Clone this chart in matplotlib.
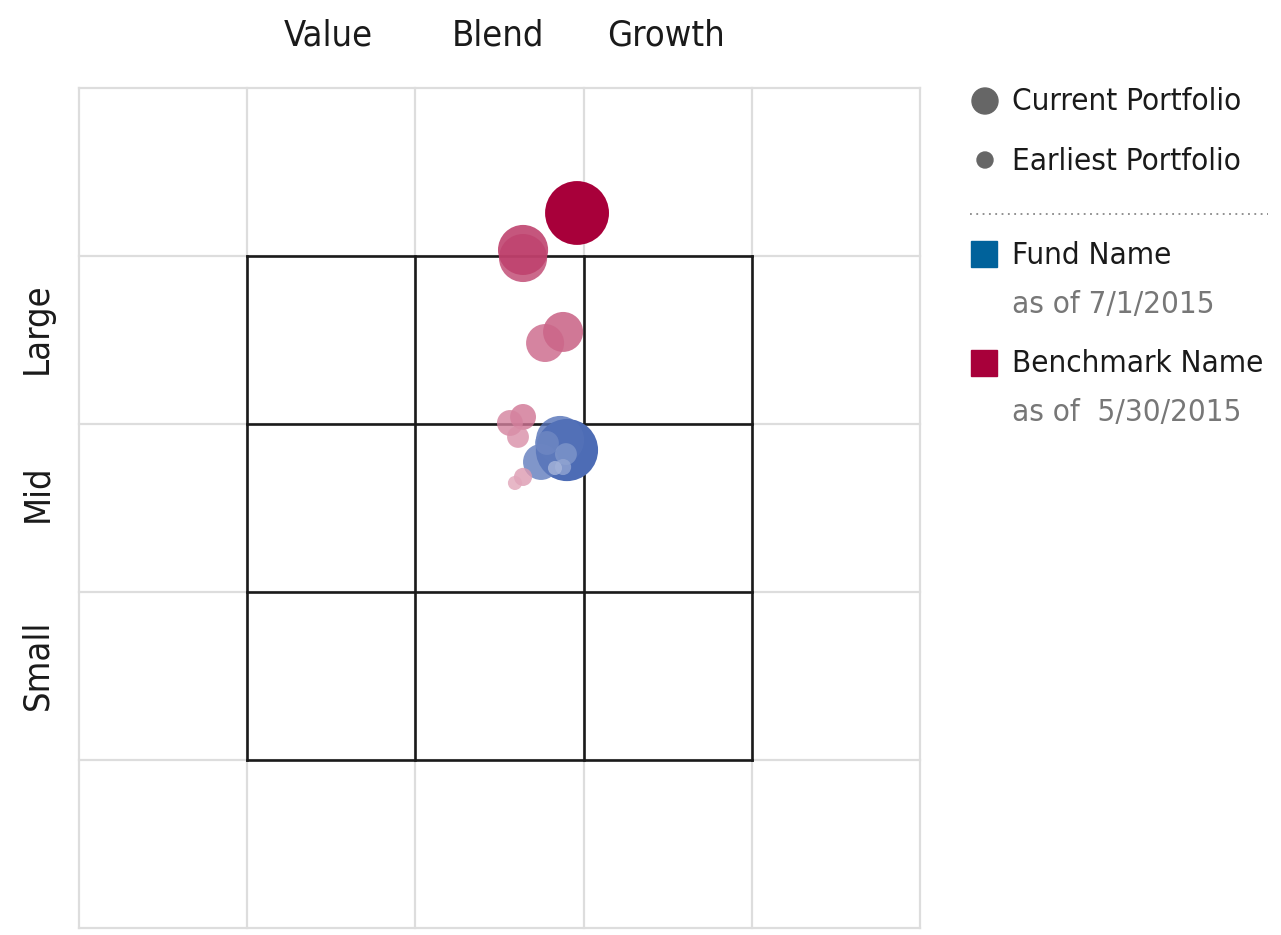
import numpy as np
import matplotlib.pyplot as plt
from matplotlib.patches import Circle, Rectangle
from matplotlib.colors import to_rgb

plt.rcParams['font.family'] = ['DejaVu Sans']
plt.rcParams['font.stretch'] = 'condensed'

# style grid: x 0..5 (value -> growth), y 0..5 (small -> large), inner 3x3 box is 1..4
col_labels = ['Value', 'Blend', 'Growth']
row_labels = ['Large', 'Mid', 'Small']

# ownership zone centroids, earliest -> current
bench_x = [2.592, 2.640, 2.610, 2.562, 2.640, 2.771, 2.878, 2.640, 2.640, 2.961]
bench_y = [2.649, 2.685, 2.923, 3.006, 3.042, 3.482, 3.548, 3.988, 4.036, 4.256]
bench_zone = [0.042, 0.054, 0.065, 0.077, 0.077, 0.113, 0.119, 0.143, 0.149, 0.190]

fund_x = [2.830, 2.878, 2.895, 2.782, 2.747, 2.860, 2.901]
fund_y = [2.738, 2.744, 2.821, 2.887, 2.774, 2.905, 2.845]
fund_zone = [0.042, 0.048, 0.065, 0.071, 0.107, 0.143, 0.185]

fund_name = 'Fund Name'
fund_date = 'as of 7/1/2015'
bench_name = 'Benchmark Name'
bench_date = 'as of  5/30/2015'

FUND_COLOR = '#00629B'
BENCH_COLOR = '#A8003A'
FUND_BUBBLE = '#4D6CB5'


def shade(base, f):
    c = np.array(to_rgb(base))
    return tuple(c + (1 - c) * f)


def draw_series(ax, xs, ys, zs, base, light, k):
    n = len(xs)
    # current first so that earlier zones sit on top
    for i in reversed(range(n)):
        t = i / (n - 1)
        f = light * (1 - t) ** k
        alpha = 1.0 if i == n - 1 else 0.8
        ax.add_patch(Circle((xs[i], ys[i]), zs[i], facecolor=shade(base, f),
                            edgecolor='none', alpha=alpha, zorder=5 + (n - i)))


W, H = 1281, 935
fig = plt.figure(figsize=(W / 100, H / 100), dpi=100)
ax = fig.add_axes([79 / W, 1 - 928 / H, 841 / W, 840 / H])
ax.set_xlim(0, 5)
ax.set_ylim(0, 5)
ax.axis('off')

for v in range(6):
    ax.plot([v, v], [0, 5], color='#DDDDDD', lw=1.6, zorder=1, clip_on=False)
    ax.plot([0, 5], [v, v], color='#DDDDDD', lw=1.6, zorder=1, clip_on=False)
for v in range(1, 5):
    ax.plot([v, v], [1, 4], color='#1A1A1A', lw=1.9, zorder=2, solid_capstyle='projecting')
    ax.plot([1, 4], [v, v], color='#1A1A1A', lw=1.9, zorder=2, solid_capstyle='projecting')

draw_series(ax, bench_x, bench_y, bench_zone, BENCH_COLOR, 0.65, 0.6)
draw_series(ax, fund_x, fund_y, fund_zone, FUND_BUBBLE, 0.5, 1.4)

# overlay in pixel coords for labels and legend
lax = fig.add_axes([0, 0, 1, 1])
lax.set_xlim(0, W)
lax.set_ylim(H, 0)
lax.axis('off')

for lab, cx in zip(col_labels, [328, 498, 666]):
    lax.text(cx, 36, lab, ha='center', va='center', fontsize=26, color='#1A1A1A')
for lab, cy in zip(row_labels, [328, 493, 665]):
    lax.text(37, cy, lab, ha='center', va='center', rotation=90, fontsize=26, color='#1A1A1A')

lax.add_patch(Circle((985, 101), 13, color='#666666'))
lax.add_patch(Circle((985, 160), 8, color='#666666'))
lax.text(1012, 102, 'Current Portfolio', va='center', fontsize=22.5, color='#1A1A1A')
lax.text(1012, 161, 'Earliest Portfolio', va='center', fontsize=22.5, color='#1A1A1A')
lax.plot([970, 1268], [214, 214], color='#888888', lw=1.3, ls=(0, (1, 2.5)))

lax.add_patch(Rectangle((971, 241), 26, 26, color=FUND_COLOR))
lax.text(1012, 255, fund_name, va='center', fontsize=22.5, color='#1A1A1A')
lax.text(1012, 304, fund_date, va='center', fontsize=22.5, color='#777777')
lax.add_patch(Rectangle((971, 350), 26, 26, color=BENCH_COLOR))
lax.text(1012, 363, bench_name, va='center', fontsize=22.5, color='#1A1A1A')
lax.text(1012, 413, bench_date, va='center', fontsize=22.5, color='#777777')

fig.savefig('out.png', dpi=100)
